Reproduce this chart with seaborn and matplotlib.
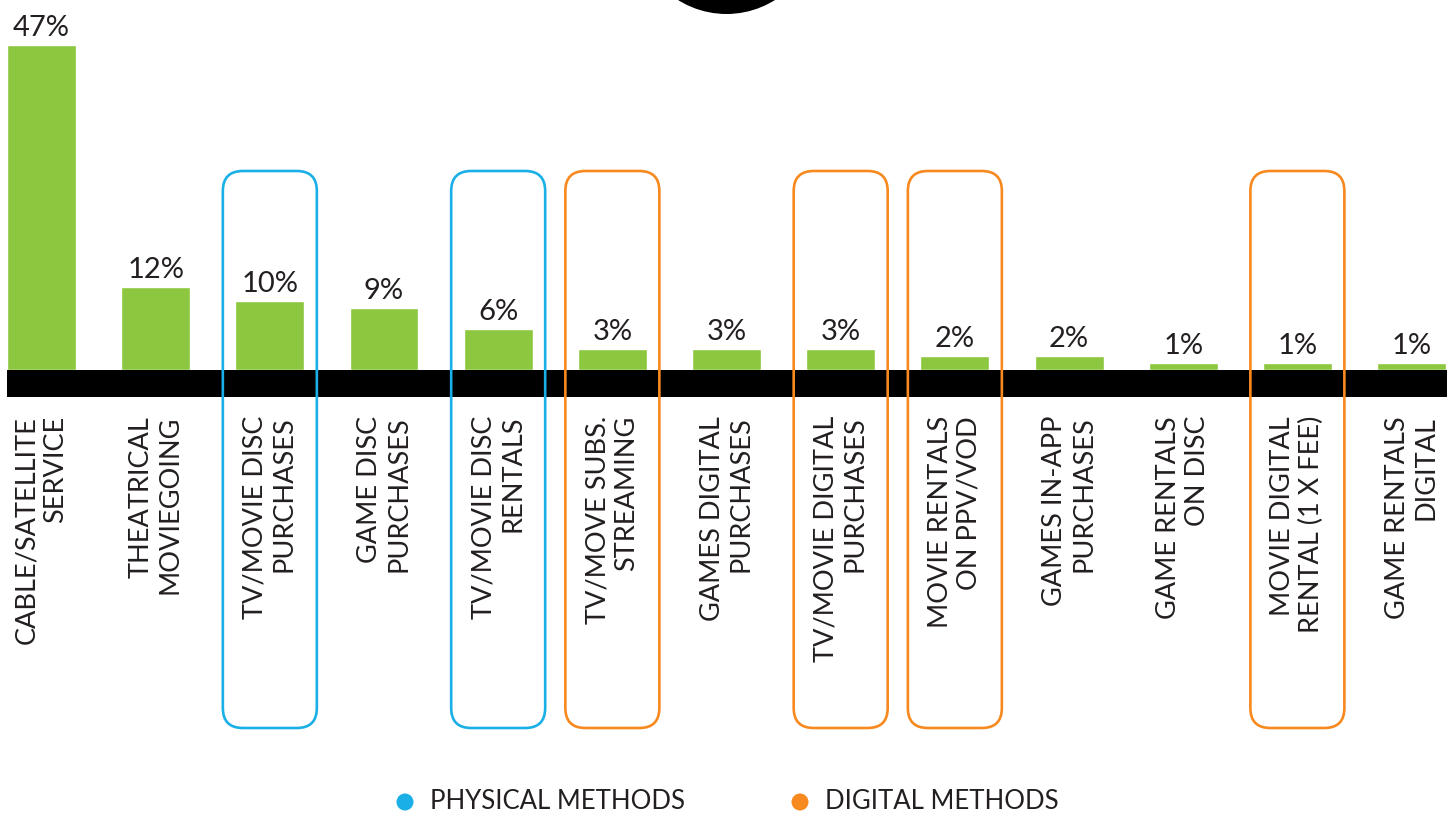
import matplotlib
matplotlib.use("Agg")
import matplotlib.pyplot as plt
from matplotlib.patches import FancyBboxPatch, Circle, Rectangle
import seaborn as sns
import pandas as pd

# ---- data ----
categories = [
    "CABLE/SATELLITE\nSERVICE",
    "THEATRICAL\nMOVIEGOING",
    "TV/MOVIE DISC\nPURCHASES",
    "GAME DISC\nPURCHASES",
    "TV/MOVIE DISC\nRENTALS",
    "TV/MOVE SUBS.\nSTREAMING",
    "GAMES DIGITAL\nPURCHASES",
    "TV/MOVIE DIGITAL\nPURCHASES",
    "MOVIE RENTALS\nON PPV/VOD",
    "GAMES IN-APP\nPURCHASES",
    "GAME RENTALS\nON DISC",
    "MOVIE DIGITAL\nRENTAL (1 X FEE)",
    "GAME RENTALS\nDIGITAL",
]
shares = [47, 12, 10, 9, 6, 3, 3, 3, 2, 2, 1, 1, 1]
method_group = [None, None, "physical", None, "physical", "digital", None,
                "digital", "digital", None, None, "digital", None]
legend_labels = ["PHYSICAL METHODS", "DIGITAL METHODS"]

GREEN = "#8DC63F"
BLUE = "#1AAFE6"
ORANGE = "#F7891F"
INK = "#231F20"

W, H = 1447, 814
sns.set_theme(style="white")
plt.rcParams["font.family"] = ["Lato", "DejaVu Sans"]

fig = plt.figure(figsize=(W / 100, H / 100), dpi=100)
ax = fig.add_axes([0, 0, 1, 1])

df = pd.DataFrame({"cat": categories, "share": shares})
sns.barplot(data=df, x="cat", y="share", order=categories, color=GREEN,
            saturation=1, width=0.604, ax=ax, zorder=2)

# scale: 114.17 px per category, 6.915 px per percentage point
step = 114.17
ppp = 6.915
x0_px, base_px = 41.5, 370
ax.set_xlim(-x0_px / step, (W - x0_px) / step)
ax.set_ylim(-(H - base_px) / ppp, base_px / ppp)
ax.axis("off")

# overlay in pixel coordinates (origin top-left) for decorations
deco = fig.add_axes([0, 0, 1, 1], zorder=3)
deco.set_xlim(0, W)
deco.set_ylim(H, 0)
deco.axis("off")
deco.patch.set_alpha(0)

def px_x(i):
    return ax.transData.transform((i, 0))[0]

# black baseline band
bar_left = px_x(0) - 0.302 * step
deco.add_patch(Rectangle((bar_left, base_px), W - bar_left + 5, 27,
                         facecolor="black", edgecolor="none", zorder=1))

# black disc at the top
deco.add_patch(Circle((726.5, -77), 91, facecolor="black", edgecolor="none"))

# value labels and category labels
for i, (cat, v) in enumerate(zip(categories, shares)):
    cx = px_x(i)
    top = base_px - v * ppp
    deco.text(cx, top - 9, f"{v}%", ha="center", va="baseline",
              fontsize=21, color=INK)
    deco.text(cx, 416, cat, rotation=90, ha="center", va="top",
              multialignment="right", fontsize=19.5, color=INK,
              linespacing=1.2)

# rounded outline boxes marking physical / digital methods
for i, g in enumerate(method_group):
    if g is None:
        continue
    col = BLUE if g == "physical" else ORANGE
    cx = px_x(i)
    deco.add_patch(FancyBboxPatch((cx - 47 + 20, 171 + 20), 94 - 40, 557 - 40,
                                  boxstyle="round,pad=20", facecolor="none",
                                  edgecolor=col, linewidth=1.9, zorder=4))

# legend
for (lx, col, lab) in [(405, BLUE, legend_labels[0]), (800, ORANGE, legend_labels[1])]:
    deco.add_patch(Circle((lx, 802), 8.5, facecolor=col, edgecolor="none"))
    deco.text(lx + 25, 809, lab, ha="left", va="baseline", fontsize=18.5, color=INK)

fig.savefig("out.png", dpi=100)
